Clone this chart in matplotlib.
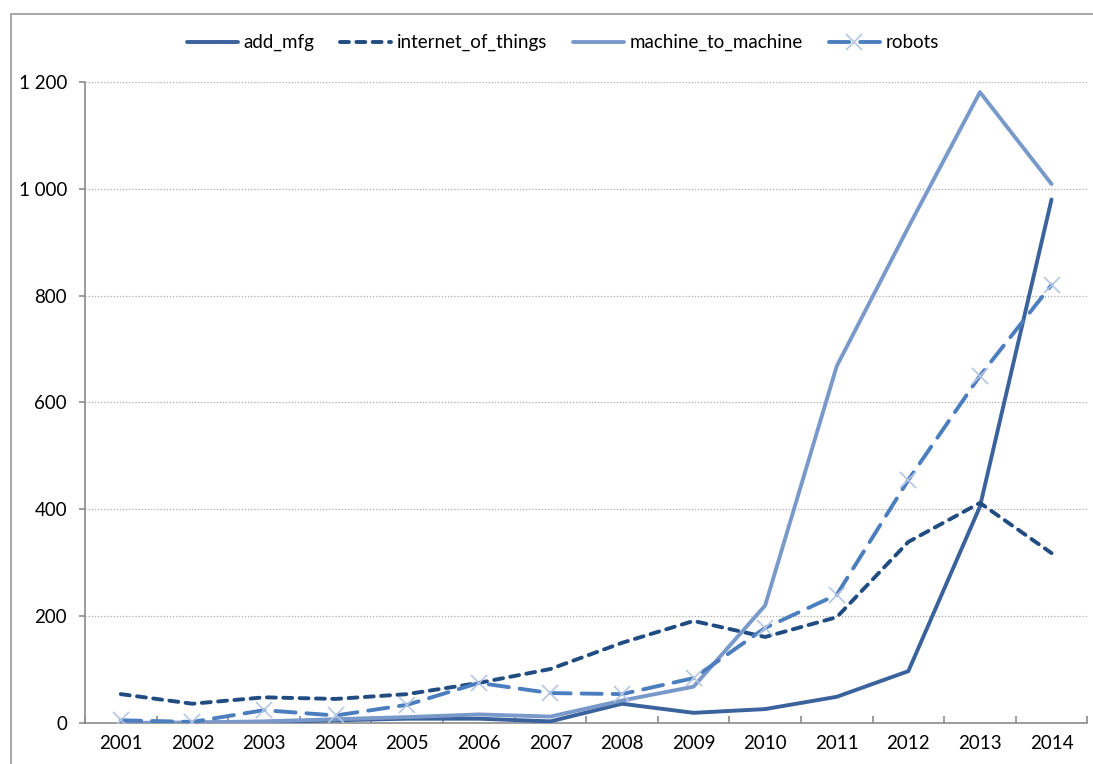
import matplotlib.pyplot as plt
from matplotlib.patches import Rectangle
from matplotlib.ticker import FuncFormatter

# Dados
anos = ['2001', '2002', '2003', '2004', '2005', '2006', '2007',
        '2008', '2009', '2010', '2011', '2012', '2013', '2014']
add_mfg = [0, 0, 2, 5, 8, 8, 3, 36, 19, 26, 49, 97, 405, 980]
internet_of_things = [54, 36, 48, 45, 54, 75, 101, 150, 191, 161, 198, 339, 412, 318]
machine_to_machine = [0, 1, 3, 7, 11, 16, 12, 42, 68, 220, 668, 928, 1181, 1009]
robots = [5, 2, 24, 14, 34, 75, 56, 54, 84, 178, 240, 455, 650, 820]

plt.rcParams['font.family'] = ['Lato', 'DejaVu Sans']

fig = plt.figure(figsize=(10.93, 7.64), dpi=100)
ax = fig.add_axes([0.0778, 0.0537, 0.917, 0.839])

# moldura do gráfico
fig.patches.append(Rectangle((11 / 1093, -0.05), 1.2, 1 - 14 / 764 + 0.05,
                             transform=fig.transFigure, fill=False,
                             edgecolor='#9a9a9a', linewidth=1.2))

x = list(range(len(anos)))
ax.plot(x, add_mfg, color='#3A629C', linewidth=2.8, label='add_mfg',
        solid_capstyle='round', zorder=3)
ax.plot(x, internet_of_things, color='#214C82', linewidth=2.8,
        dashes=(2.3, 1.9), dash_capstyle='round', label='internet_of_things', zorder=3)
ax.plot(x, machine_to_machine, color='#7A99CB', linewidth=2.8,
        label='machine_to_machine', solid_capstyle='round', zorder=3)
ax.plot(x, robots, color='#4A7EBF', linewidth=2.8, dashes=(5.2, 2.8),
        dash_capstyle='round', marker='x', markersize=11,
        markeredgecolor='#B4C6E4', markeredgewidth=1.2, label='robots', zorder=3)

ax.set_xlim(-0.5, 13.5)
ax.set_ylim(0, 1200)
ax.set_yticks(range(0, 1201, 200))
ax.yaxis.set_major_formatter(FuncFormatter(lambda v, p: f'{int(v):,}'.replace(',', ' ')))
ax.set_xticks(x)
ax.set_xticklabels(anos)
ax.set_xticks([i + 0.5 for i in range(-1, 14)], minor=True)

ax.grid(True, axis='y', linestyle=(0, (1, 1.5)), color='#aaaaaa', linewidth=0.9)
ax.set_axisbelow(True)

for s in ['top', 'right']:
    ax.spines[s].set_visible(False)
ax.spines['left'].set_color('#8c8c8c')
ax.spines['bottom'].set_color('#8c8c8c')
ax.spines['left'].set_linewidth(1.2)
ax.spines['bottom'].set_linewidth(1.2)

ax.tick_params(axis='x', which='major', length=0, labelsize=13.5, pad=9)
ax.tick_params(axis='x', which='minor', direction='in', length=5, color='#8c8c8c', width=1.2)
ax.tick_params(axis='y', length=4, color='#8c8c8c', width=1.2, labelsize=13.5, pad=9)

fig.legend(loc='center', bbox_to_anchor=(0.515, 0.944), ncol=4, frameon=False,
           fontsize=13.5, handlelength=2.7, columnspacing=1.4, handletextpad=0.3)

fig.savefig('out.png', dpi=100)
